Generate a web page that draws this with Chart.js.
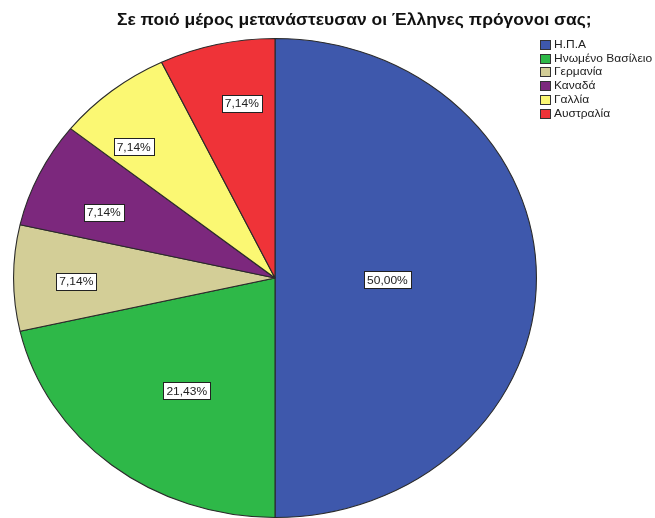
<!DOCTYPE html>
<html lang="el">
<head>
  <meta charset="UTF-8" />
  <title>Μετανάστευση προγόνων</title>
  <script src="https://cdn.jsdelivr.net/npm/chart.js"></script>
  <style>
    body { margin: 0; background: #fff; }
    #wrap { width: 655px; height: 518px; }
  </style>
</head>
<body>
  <div id="wrap"><canvas id="pieChart" width="655" height="518"></canvas></div>
  <script>
// survey answers
const chartTitle = "Σε ποιό μέρος μετανάστευσαν οι Έλληνες πρόγονοι σας;";
const countries = ["Η.Π.Α", "Ηνωμένο Βασίλειο", "Γερμανία", "Καναδά", "Γαλλία", "Αυστραλία"];
const counts = [7, 3, 1, 1, 1, 1];
const sliceColors = ["#3e58ac", "#2eb848", "#d3ce97", "#7c287d", "#fbf873", "#ef3338"];

// whole figure is a bit wider than tall
const stretchX = 262 / 240;
// where each % box sits inside its slice: [fraction of radius, angle shift in degrees]
const labelSpots = [[0.43, 1], [0.58, -3], [0.76, -1], [0.71, -3], [0.77, -6], [0.74, 3]];

const total = counts.reduce((a, b) => a + b, 0);
const pctText = v => (v / total * 100).toFixed(2).replace(".", ",") + "%";

// text drawn squeezed/stretched horizontally like the pie
function wideText(ctx, txt, x, y) {
  ctx.save();
  ctx.translate(x, y);
  ctx.scale(stretchX, 1);
  ctx.fillText(txt, 0, 0);
  ctx.restore();
}

const ellipsePlugin = {
  id: "ellipse",
  beforeDatasetsDraw(chart) {
    const arc = chart.getDatasetMeta(0).data[0];
    const ctx = chart.ctx;
    ctx.save();
    ctx.translate(arc.x, arc.y);
    ctx.scale(stretchX, 1);
    ctx.translate(-arc.x, -arc.y);
  },
  afterDatasetsDraw(chart) {
    chart.ctx.restore();
  }
};

const labelsPlugin = {
  id: "spssLabels",
  afterDraw(chart) {
    const ctx = chart.ctx;
    const meta = chart.getDatasetMeta(0);
    ctx.save();
    // value boxes
    ctx.font = "11px 'Liberation Sans', Arial, sans-serif";
    ctx.textAlign = "center";
    ctx.textBaseline = "middle";
    meta.data.forEach((arc, i) => {
      const [frac, shift] = labelSpots[i];
      const mid = (arc.startAngle + arc.endAngle) / 2 + shift * Math.PI / 180;
      const r = arc.outerRadius * frac;
      const x = arc.x + Math.cos(mid) * r * stretchX;
      const y = arc.y + Math.sin(mid) * r;
      const txt = pctText(counts[i]);
      const w = Math.round(ctx.measureText(txt).width * stretchX + 6);
      const h = 17;
      const bx = Math.round(x - w / 2) + 0.5, by = Math.round(y - h / 2) + 0.5;
      ctx.fillStyle = "#fff";
      ctx.fillRect(bx, by, w, h);
      ctx.strokeStyle = "#222";
      ctx.lineWidth = 1;
      ctx.strokeRect(bx, by, w, h);
      ctx.fillStyle = "#222";
      wideText(ctx, txt, x, y + 1);
    });

    // title
    ctx.font = "bold 16px 'Liberation Sans', Arial, sans-serif";
    ctx.fillStyle = "#111";
    ctx.textAlign = "left";
    wideText(ctx, chartTitle, 117, 21);

    // legend
    ctx.font = "11px 'Liberation Sans', Arial, sans-serif";
    countries.forEach((name, i) => {
      const y = 45 + i * 13.7;
      const by = Math.round(y - 5) + 0.5;
      ctx.fillStyle = sliceColors[i];
      ctx.fillRect(540.5, by, 10, 9);
      ctx.strokeStyle = "#333";
      ctx.strokeRect(540.5, by, 10, 9);
      ctx.fillStyle = "#222";
      wideText(ctx, name, 554, y);
    });
    ctx.restore();
  }
};

new Chart(document.getElementById("pieChart").getContext("2d"), {
  type: "pie",
  data: {
    labels: countries,
    datasets: [{
      data: counts,
      backgroundColor: sliceColors,
      borderColor: "#2a2a2a",
      borderWidth: 1
    }]
  },
  options: {
    responsive: false,
    animation: false,
    layout: { padding: { top: 38, bottom: 0, left: 35, right: 140 } },
    plugins: { legend: { display: false }, title: { display: false }, tooltip: { enabled: false } }
  },
  plugins: [ellipsePlugin, labelsPlugin]
});
  </script>
</body>
</html>
